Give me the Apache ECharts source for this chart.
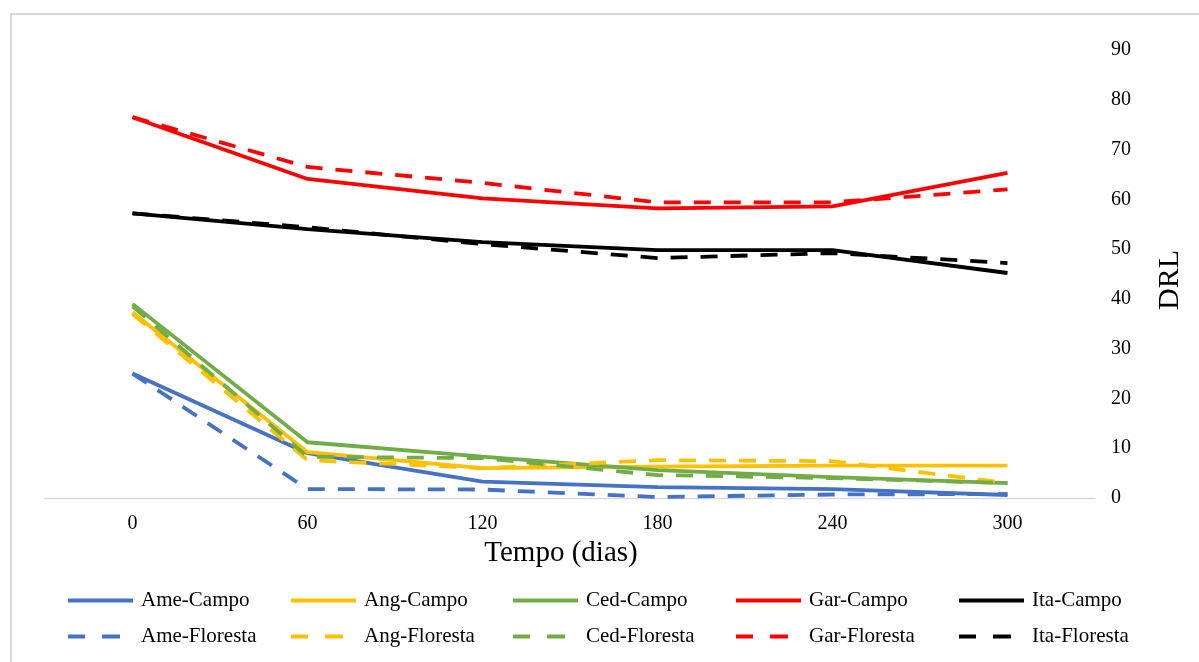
<!DOCTYPE html>
<html>
<head>
<meta charset="utf-8">
<script src="https://cdn.jsdelivr.net/npm/echarts@6/dist/echarts.min.js"></script>
<style>html,body{margin:0;padding:0;background:#fff}#c{width:1199px;height:662px}</style>
</head>
<body>
<div id="c"></div>
<script>
const categories = ['0', '60', '120', '180', '240', '300'];
const ameCampo    = [25.0, 9.0, 3.3, 2.2, 1.8, 0.6];
const angCampo    = [37.3, 9.2, 6.0, 6.3, 6.5, 6.5];
const cedCampo    = [39.0, 11.2, 8.3, 5.6, 4.2, 3.0];
const garCampo    = [76.5, 64.1, 60.2, 58.2, 58.6, 65.3];
const itaCampo    = [57.2, 54.0, 51.4, 49.8, 49.8, 45.2];
const ameFloresta = [25.0, 1.8, 1.7, 0.2, 0.7, 0.8];
const angFloresta = [37.0, 7.6, 6.0, 7.6, 7.4, 3.0];
const cedFloresta = [38.5, 8.3, 8.0, 4.6, 4.0, 3.0];
const garFloresta = [76.5, 66.5, 63.3, 59.4, 59.4, 62.0];
const itaFloresta = [57.2, 54.4, 51.0, 48.2, 49.2, 47.2];

const seriesDefs = [
  ['Ame-Campo', ameCampo, '#4472C4', 'solid'],
  ['Ang-Campo', angCampo, '#FFC000', 'solid'],
  ['Ced-Campo', cedCampo, '#70AD47', 'solid'],
  ['Gar-Campo', garCampo, '#FF0000', 'solid'],
  ['Ita-Campo', itaCampo, '#000000', 'solid'],
  ['Ame-Floresta', ameFloresta, '#4472C4', 'dashed'],
  ['Ang-Floresta', angFloresta, '#FFC000', 'dashed'],
  ['Ced-Floresta', cedFloresta, '#70AD47', 'dashed'],
  ['Gar-Floresta', garFloresta, '#FF0000', 'dashed'],
  ['Ita-Floresta', itaFloresta, '#000000', 'dashed']
];

const FONT = '"Liberation Serif", "Times New Roman", serif';
const colLeft = [68, 291, 513, 736, 959];
const rowTop = [590, 626];
const ICON_SOLID = 'path://M0,0H65V4H0Z';
const ICON_DASH = 'path://M0,0H17V4H0Z M34,0H52V4H34Z M65,0L65,4';

const legends = seriesDefs.map((d, i) => ({
  data: [{ name: d[0] }],
  icon: d[3] === 'dashed' ? ICON_DASH : ICON_SOLID,
  left: colLeft[i % 5],
  top: rowTop[Math.floor(i / 5)],
  itemWidth: 65,
  itemHeight: 4,
  itemGap: 0,
  padding: 0,
  selectedMode: false,
  itemStyle: { borderWidth: 0 },
  textStyle: { fontFamily: FONT, fontSize: 21, color: '#000', padding: [0, 0, 0, 3] }
}));

const series = seriesDefs.map(d => ({
  name: d[0],
  type: 'line',
  data: d[1],
  symbol: 'none',
  z: d[3] === 'dashed' ? 3 : 2,
  lineStyle: {
    color: d[2],
    width: 3.8,
    type: d[3] === 'dashed' ? [17, 13] : 'solid',
    cap: 'butt'
  },
  itemStyle: { color: d[2] }
}));

const chart = echarts.init(document.getElementById('c'), null, { renderer: 'canvas' });
chart.setOption({
  animation: false,
  backgroundColor: '#fff',
  graphic: [{
    type: 'rect',
    shape: { x: 11, y: 14, width: 1200, height: 700 },
    style: { fill: 'none', stroke: '#d9d9d9', lineWidth: 2 },
    silent: true, z: -10
  }],
  legend: legends,
  grid: { left: 45, right: 104, top: 50, bottom: 164 },
  xAxis: {
    type: 'category',
    data: categories,
    boundaryGap: true,
    name: 'Tempo (dias)',
    nameLocation: 'middle',
    nameGap: 40,
    nameTextStyle: { fontFamily: FONT, fontSize: 29, color: '#000', padding: [0, 18, 0, 0] },
    axisLine: { show: true, lineStyle: { color: '#d9d9d9', width: 1.3 } },
    axisTick: { show: false },
    axisLabel: { fontFamily: FONT, fontSize: 20, color: '#000', margin: 16 },
    splitLine: { show: false }
  },
  yAxis: {
    type: 'value',
    position: 'right',
    min: 0, max: 90, interval: 10,
    name: 'DRL',
    nameLocation: 'middle',
    nameRotate: 90,
    nameGap: 60,
    nameTextStyle: { fontFamily: FONT, fontSize: 30, color: '#000', padding: [0, 12, 0, 0] },
    axisLine: { show: false },
    axisTick: { show: false },
    axisLabel: { fontFamily: FONT, fontSize: 20, color: '#000', margin: 16 },
    splitLine: { show: false }
  },
  series: series
});
</script>
</body>
</html>
